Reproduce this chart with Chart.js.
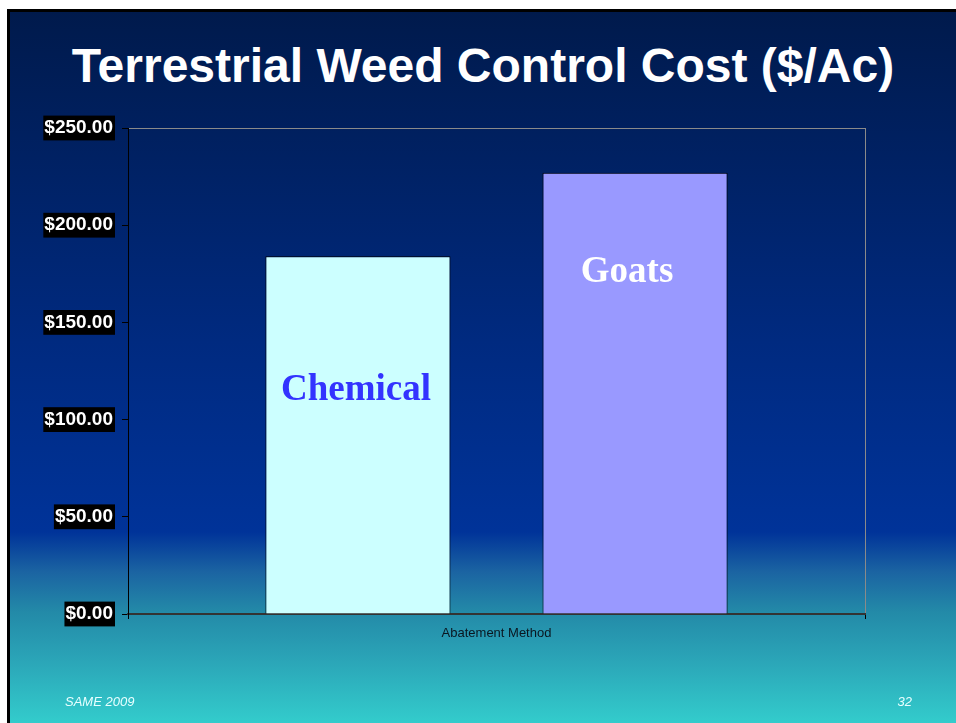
<!DOCTYPE html>
<html>
<head>
<meta charset="utf-8">
<script src="https://cdn.jsdelivr.net/npm/chart.js@4/dist/chart.umd.min.js"></script>
<style>
  html, body { margin: 0; padding: 0; background: #fff; }
  body { width: 956px; height: 723px; position: relative; overflow: hidden; }
  #slide {
    position: absolute; left: 7px; top: 9px; width: 949px; height: 714px;
    border-left: 3px solid #000; border-top: 3px solid #000;
    background: linear-gradient(to bottom, #001a4c 0px, #002a80 330px, #003399 520px, #1b64a2 560px, #238aa8 600px, #2ba6b8 650px, #33cccc 711px);
  }
  #title {
    position: absolute; left: 0; width: 946px; top: 26px; text-align: center;
    font: bold 48px "Liberation Sans", Arial, sans-serif; color: #fff; white-space: nowrap;
  }
  canvas { position: absolute; left: 0; top: 0; }
  .foot { position: absolute; top: 682px; font: italic 13px "Liberation Sans", Arial, sans-serif; color: #e8ffff; }
</style>
</head>
<body>
<div id="slide">
  <div id="title">Terrestrial Weed Control Cost ($/Ac)</div>
  <canvas id="chart" width="946" height="711"></canvas>
  <div class="foot" style="left:55px">SAME 2009</div>
  <div class="foot" style="right:47px">32</div>
</div>
<script>
// Datos
const categories = ["Abatement Method"];
const seriesNames = ["Chemical", "Goats"];
const chemicalCost = [184];
const goatsCost = [227];
const yTicks = [0, 50, 100, 150, 200, 250];

// Etiquetas dentro de las barras
const barLabels = {
  id: "barLabels",
  afterDatasetsDraw(chart) {
    const ctx = chart.ctx;
    const y = chart.scales.y;
    ctx.save();
    ctx.font = 'bold 37px "Liberation Serif", "Times New Roman", serif';
    ctx.textAlign = "center";
    ctx.textBaseline = "alphabetic";
    chart.data.datasets.forEach((ds, i) => {
      const bar = chart.getDatasetMeta(i).data[0];
      ctx.fillStyle = ds.labelColor;
      ctx.fillText(ds.label, bar.x + ds.labelShift, y.getPixelForValue(ds.labelAt));
    });
    ctx.restore();
  }
};

const chart = new Chart(document.getElementById("chart"), {
  type: "bar",
  data: {
    labels: categories,
    datasets: [
      {
        label: seriesNames[0],
        data: chemicalCost,
        backgroundColor: "#ccffff",
        borderColor: "#000",
        borderWidth: 1,
        labelColor: "#3333ff",
        labelAt: 110,
        labelShift: -2
      },
      {
        label: seriesNames[1],
        data: goatsCost,
        backgroundColor: "#9999ff",
        borderColor: "#000",
        borderWidth: 1,
        labelColor: "#ffffff",
        labelAt: 171,
        labelShift: -8
      }
    ]
  },
  options: {
    responsive: false,
    animation: false,
    barPercentage: 0.668,
    categoryPercentage: 0.752,
    layout: { padding: { left: 0, top: 116, right: 91, bottom: 0 } },
    plugins: { legend: { display: false }, tooltip: { enabled: false } },
    scales: {
      x: {
        afterFit(scale) { scale.height = 109; },
        grid: {
          offset: true,
          color: "#8a8a8a",
          tickColor: "#000",
          tickLength: 5
        },
        border: { color: "#333", width: 2 },
        ticks: {
          color: "#0a1620",
          padding: 7,
          font: { family: '"Liberation Sans", Arial, sans-serif', size: 13 }
        }
      },
      y: {
        min: 0,
        max: 250,
        afterFit(scale) { scale.width = 118; },
        afterBuildTicks(scale) { scale.ticks = yTicks.map(v => ({ value: v })); },
        grid: {
          color: ctx => (ctx.tick && ctx.tick.value === 250 ? "#8a8a8a" : "rgba(0,0,0,0)"),
          tickColor: "#000",
          tickLength: 6
        },
        border: { color: "#000", width: 1 },
        ticks: {
          color: "#fff",
          padding: 9,
          showLabelBackdrop: true,
          backdropColor: "#000",
          backdropPadding: { top: 1, bottom: 1, left: 1, right: 2 },
          font: { family: '"Liberation Sans", Arial, sans-serif', size: 19, weight: "bold" },
          callback: v => "$" + Number(v).toFixed(2)
        }
      }
    }
  },
  plugins: [barLabels]
});
</script>
</body>
</html>
